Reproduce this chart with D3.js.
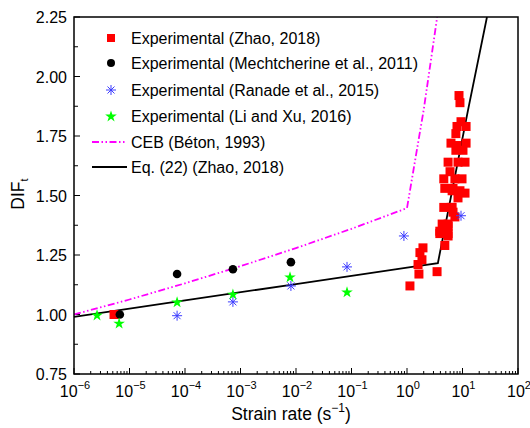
<!DOCTYPE html>
<html>
<head>
<meta charset="utf-8">
<script src="https://cdn.jsdelivr.net/npm/d3@7"></script>
<style>
  body { margin: 0; background: #fff; }
  text { font-family: Arial, "Liberation Sans", sans-serif; fill: #000; }
</style>
</head>
<body>
<script>
// Experimental (Zhao, 2018)
const zhaoRate = [5.26e-6, 8.65, 9.0, 9.4, 7.96, 11.6, 7.6, 6.2, 11.6, 7.6, 10.2, 7.96, 5.5, 8.3, 11.1,
                  5.96, 4.6, 9.8, 7.3, 4.8, 6.5, 6.75, 9.0, 11.1, 8.3, 4.6, 6.2, 6.5, 6.75, 7.3,
                  4.3, 5.5, 5.5, 3.9, 3.9, 5.5, 5.5, 4.8, 1.94, 1.71, 1.86, 1.58, 1.64, 3.48, 1.13];
const zhaoDif  = [1.00, 1.92, 1.89, 1.81, 1.79, 1.79, 1.76, 1.72, 1.72, 1.69, 1.69, 1.71, 1.64, 1.64, 1.64,
                  1.60, 1.57, 1.57, 1.57, 1.53, 1.52, 1.53, 1.52, 1.51, 1.49, 1.45, 1.45, 1.45, 1.43, 1.41,
                  1.38, 1.37, 1.38, 1.34, 1.35, 1.33, 1.34, 1.29, 1.28, 1.26, 1.23, 1.21, 1.17, 1.18, 1.12];
// Experimental (Mechtcherine et al., 2011)
const mechRate = [6.7e-6, 7.2e-5, 7.3e-4, 8.1e-3];
const mechDif  = [1.00, 1.17, 1.19, 1.22];
// Experimental (Ranade et al., 2015)
const ranRate = [7.2e-5, 7.3e-4, 8.1e-3, 0.083, 0.88, 9.4];
const ranDif  = [0.995, 1.053, 1.12, 1.20, 1.33, 1.415];
// Experimental (Li and Xu, 2016)
const liRate = [2.6e-6, 6.5e-6, 7.2e-5, 7.3e-4, 7.8e-3, 0.083];
const liDif  = [0.998, 0.964, 1.053, 1.086, 1.158, 1.095];
// CEB (Béton, 1993)
const cebRate = [1e-6, 1e-5, 1e-4, 1e-3, 1e-2, 1e-1, 1.0, 2.0, 3.5];
const cebDif  = [1.00, 1.063, 1.131, 1.203, 1.279, 1.36, 1.447, 1.86, 2.25];
// Eq. (22) (Zhao, 2018)
const eqRate = [1e-6, 1e-4, 1e-2, 1.0, 3.6, 12.6, 27.6];
const eqDif  = [0.99, 1.059, 1.128, 1.197, 1.216, 1.86, 2.25];

const xTickExp = [-6, -5, -4, -3, -2, -1, 0, 1, 2];
const yTicks = [0.75, 1.00, 1.25, 1.50, 1.75, 2.00, 2.25];

const legendLabels = ["Experimental (Zhao, 2018)", "Experimental (Mechtcherine et al., 2011)",
                      "Experimental (Ranade et al., 2015)", "Experimental (Li and Xu, 2016)",
                      "CEB (Béton, 1993)", "Eq. (22) (Zhao, 2018)"];

const W = 530, H = 428;
const pLeft = 74, pRight = 518, pTop = 17, pBottom = 374;

const svg = d3.select("body").append("svg").attr("width", W).attr("height", H);

const x = d3.scaleLog().domain([1e-6, 1e2]).range([pLeft, pRight]);
const y = d3.scaleLinear().domain([0.75, 2.25]).range([pBottom, pTop]);

svg.append("clipPath").attr("id", "clip")
  .append("rect").attr("x", pLeft).attr("y", pTop).attr("width", pRight - pLeft).attr("height", pBottom - pTop);

// minor ticks x
const xMinor = [];
xTickExp.slice(0, -1).forEach(e => { for (let k = 2; k <= 9; k++) xMinor.push(k * Math.pow(10, e)); });

const axisG = svg.append("g");
axisG.selectAll(".xminor").data(xMinor).enter().append("line")
  .attr("x1", d => x(d)).attr("x2", d => x(d))
  .attr("y1", pBottom).attr("y2", pBottom - 3)
  .attr("stroke", "#000").attr("stroke-width", 1);
axisG.selectAll(".xmajor").data(xTickExp).enter().append("line")
  .attr("x1", d => x(Math.pow(10, d))).attr("x2", d => x(Math.pow(10, d)))
  .attr("y1", pBottom).attr("y2", pBottom - 6)
  .attr("stroke", "#000").attr("stroke-width", 1);

const yMinor = yTicks.slice(0, -1).map(d => d + 0.125);
axisG.selectAll(".yminor").data(yMinor).enter().append("line")
  .attr("x1", pLeft).attr("x2", pLeft + 4)
  .attr("y1", d => y(d)).attr("y2", d => y(d))
  .attr("stroke", "#000").attr("stroke-width", 1);
axisG.selectAll(".ymajor").data(yTicks).enter().append("line")
  .attr("x1", pLeft).attr("x2", pLeft + 6)
  .attr("y1", d => y(d)).attr("y2", d => y(d))
  .attr("stroke", "#000").attr("stroke-width", 1);

// tick labels
axisG.selectAll(".ylab").data(yTicks).enter().append("text")
  .attr("x", pLeft - 7).attr("y", d => y(d) + 6)
  .attr("text-anchor", "end").attr("font-size", 16)
  .text(d => d.toFixed(2));

const xl = axisG.selectAll(".xlab").data(xTickExp).enter().append("text")
  .attr("x", d => x(Math.pow(10, d)) + 1).attr("y", pBottom + 23)
  .attr("text-anchor", "middle").attr("font-size", 16);
xl.append("tspan").text("10");
xl.append("tspan").attr("dy", -8).attr("font-size", 11).text(d => d < 0 ? "\u2212" + (-d) : d);

// axis titles
const xt = svg.append("text").attr("x", 291).attr("y", 420)
  .attr("text-anchor", "middle").attr("font-size", 17.5);
xt.append("tspan").text("Strain rate (s");
xt.append("tspan").attr("dy", -8).attr("font-size", 12).text("\u22121");
xt.append("tspan").attr("dy", 8).text(")");

const yt = svg.append("text").attr("transform", "translate(24,194) rotate(-90)")
  .attr("text-anchor", "middle").attr("font-size", 17.5);
yt.append("tspan").text("DIF");
yt.append("tspan").attr("dy", 4).attr("font-size", 11).text("t");

// lines
const plot = svg.append("g").attr("clip-path", "url(#clip)");
const line = d3.line().x(d => x(d[0])).y(d => y(d[1]));

plot.append("path").datum(d3.zip(cebRate, cebDif))
  .attr("d", line).attr("fill", "none").attr("stroke", "#ff00ff")
  .attr("stroke-width", 1.8).attr("stroke-dasharray", "7,2.5,1.5,2.5,1.5,2.5");
plot.append("path").datum(d3.zip(eqRate, eqDif))
  .attr("d", line).attr("fill", "none").attr("stroke", "#000")
  .attr("stroke-width", 1.8);

// markers
function asterisk(g, s) {
  const r = s / 2;
  [[-r, 0, r, 0], [0, -r, 0, r], [-r * 0.7, -r * 0.7, r * 0.7, r * 0.7], [-r * 0.7, r * 0.7, r * 0.7, -r * 0.7]]
    .forEach(c => g.append("line").attr("x1", c[0]).attr("y1", c[1]).attr("x2", c[2]).attr("y2", c[3])
      .attr("stroke", "#3c3cff").attr("stroke-width", 1));
}
const star = d3.symbol().type(d3.symbolStar).size(42);

plot.selectAll(".zhao").data(d3.zip(zhaoRate, zhaoDif)).enter().append("rect")
  .attr("x", d => x(d[0]) - 4.5).attr("y", d => y(d[1]) - 4.5)
  .attr("width", 9).attr("height", 9).attr("fill", "#ff0000");

plot.selectAll(".mech").data(d3.zip(mechRate, mechDif)).enter().append("circle")
  .attr("cx", d => x(d[0])).attr("cy", d => y(d[1])).attr("r", 4.3).attr("fill", "#000");

plot.selectAll(".ran").data(d3.zip(ranRate, ranDif)).enter().append("g")
  .attr("transform", d => `translate(${x(d[0])},${y(d[1])})`)
  .each(function () { asterisk(d3.select(this), 10); });

plot.selectAll(".li").data(d3.zip(liRate, liDif)).enter().append("path")
  .attr("transform", d => `translate(${x(d[0])},${y(d[1]) + 0.5})`)
  .attr("d", star).attr("fill", "#00ff00");

// frame
svg.append("rect").attr("x", pLeft).attr("y", pTop).attr("width", pRight - pLeft).attr("height", pBottom - pTop)
  .attr("fill", "none").attr("stroke", "#000").attr("stroke-width", 1.5);

// legend
const rowY = [38, 63, 90, 116, 142, 167];
const lg = svg.append("g");
lg.selectAll(".lt").data(legendLabels).enter().append("text")
  .attr("x", 131).attr("y", (d, i) => rowY[i] + 6).attr("font-size", 16).text(d => d);
lg.append("rect").attr("x", 107).attr("y", rowY[0] - 4).attr("width", 8).attr("height", 8).attr("fill", "#ff0000");
lg.append("circle").attr("cx", 111).attr("cy", rowY[1]).attr("r", 4).attr("fill", "#000");
asterisk(lg.append("g").attr("transform", `translate(111,${rowY[2]})`), 10);
lg.append("path").attr("transform", `translate(111,${rowY[3] + 0.5})`).attr("d", star).attr("fill", "#00ff00");
lg.append("line").attr("x1", 92).attr("x2", 127).attr("y1", rowY[4]).attr("y2", rowY[4])
  .attr("stroke", "#ff00ff").attr("stroke-width", 1.8).attr("stroke-dasharray", "7,2.5,1.5,2.5,1.5,2.5");
lg.append("line").attr("x1", 92).attr("x2", 127).attr("y1", rowY[5]).attr("y2", rowY[5])
  .attr("stroke", "#000").attr("stroke-width", 1.8);
</script>
</body>
</html>
